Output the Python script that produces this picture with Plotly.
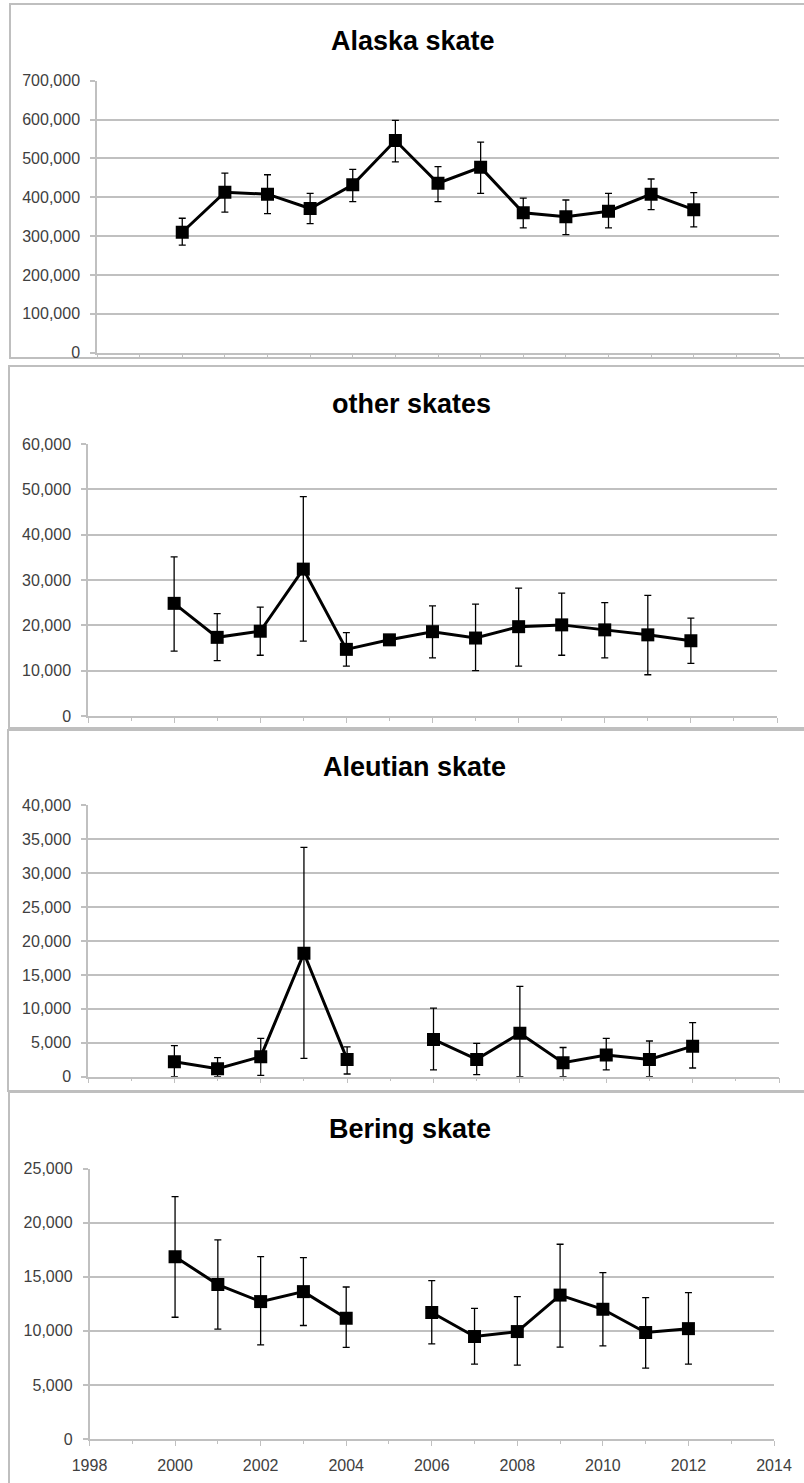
import plotly.graph_objects as go

W, H = 804, 1483

years = [2000, 2001, 2002, 2003, 2004, 2005, 2006, 2007, 2008, 2009, 2010, 2011, 2012]
x_ticks = [1998, 2000, 2002, 2004, 2006, 2008, 2010, 2012, 2014]

titles = ["Alaska skate", "other skates", "Aleutian skate", "Bering skate"]

alaska = [310000, 413000, 408000, 371000, 432000, 546000, 436000, 477000, 360000, 350000, 364000, 408000, 368000]
alaska_hi = [346000, 462000, 458000, 410000, 472000, 598000, 479000, 542000, 398000, 393000, 410000, 447000, 412000]
alaska_lo = [277000, 362000, 358000, 332000, 389000, 491000, 389000, 410000, 321000, 304000, 321000, 368000, 324000]

other = [24850, 17350, 18700, 32400, 14700, 16800, 18600, 17200, 19700, 20100, 19000, 17900, 16600]
other_hi = [35100, 22600, 24000, 48400, 18400, 16800, 24300, 24700, 28200, 27100, 25000, 26600, 21600]
other_lo = [14300, 12200, 13400, 16500, 11000, 16800, 12800, 10000, 11000, 13400, 12800, 9100, 11600]

aleutian = [2210, 1180, 2950, 18200, 2550, None, 5500, 2550, 6400, 2060, 3200, 2550, 4500]
aleutian_hi = [4570, 2800, 5650, 33800, 4400, None, 10100, 4900, 13300, 4300, 5650, 5260, 7960]
aleutian_lo = [0, 0, 200, 2700, 400, None, 1000, 300, 0, 0, 1000, 0, 1280]

bering = [16850, 14270, 12700, 13620, 11160, None, 11690, 9470, 9930, 13300, 11990, 9840, 10200]
bering_hi = [22400, 18400, 16850, 16760, 14050, None, 14640, 12080, 13160, 18000, 15370, 13070, 13530]
bering_lo = [11250, 10150, 8700, 10490, 8460, None, 8800, 6920, 6830, 8490, 8600, 6550, 6920]

y_max = [700000, 60000, 40000, 25000]
y_step = [100000, 10000, 5000, 5000]

series = [(alaska, alaska_hi, alaska_lo), (other, other_hi, other_lo),
          (aleutian, aleutian_hi, aleutian_lo), (bering, bering_hi, bering_lo)]

# layout geometry (pixels)
plot_px = [  # x0, x1, ytop, ybottom
    (97, 779, 80.7, 352.7),
    (88, 777, 444, 716),
    (88, 779, 805.3, 1076.7),
    (89.5, 774, 1168.5, 1439),
]
title_px = [(413, 41), (411, 404), (414, 767), (410, 1129)]
border_px = [(10, 4, 358), (9, 366, 728), (8, 730, 1091), (9, 1092, 1495)]

GRID = "#c0c0c0"
TXT = "#404040"
FONT = "Liberation Sans"

def px(v):
    return v / W

def py(v):
    return 1 - v / H

def err(vals, hi, lo):
    up, dn = [], []
    for v, h, l in zip(vals, hi, lo):
        if v is None:
            up.append(None)
            dn.append(None)
        else:
            up.append(h - v)
            dn.append(v - l)
    return up, dn

fig = go.Figure()
layout = dict(
    width=W, height=H, autosize=False,
    margin=dict(l=0, r=0, t=0, b=0, pad=0),
    paper_bgcolor="white", plot_bgcolor="white",
    showlegend=False,
    font=dict(family=FONT, size=16, color=TXT),
)
annotations = []
shapes = []

for i, ((vals, hi, lo), title) in enumerate(zip(series, titles)):
    n = i + 1
    xa = "x" if n == 1 else f"x{n}"
    ya = "y" if n == 1 else f"y{n}"
    up, dn = err(vals, hi, lo)
    fig.add_trace(go.Scatter(
        x=years, y=vals, xaxis=xa, yaxis=ya,
        mode="lines+markers",
        line=dict(color="black", width=3),
        marker=dict(symbol="square", size=13, color="black"),
        connectgaps=False,
        error_y=dict(type="data", symmetric=False, array=up, arrayminus=dn,
                     color="black", thickness=1.3, width=3.5),
        hoverinfo="x+y",
    ))
    x0, x1, yt, yb = plot_px[i]
    last = (n == 4)
    layout[f"xaxis{'' if n == 1 else n}"] = dict(
        domain=[px(x0), px(x1)], anchor=ya, automargin=False,
        range=[1998, 2014], tickmode="array", tickvals=x_ticks,
        ticks="outside", ticklen=5, tickwidth=1.3, tickcolor=GRID,
        minor=dict(ticks="outside", ticklen=3, tickwidth=1.3, tickcolor=GRID,
                   dtick=1, tick0=1999),
        showticklabels=last, ticklabelstandoff=6,
        tickfont=dict(family=FONT, size=16, color=TXT),
        showline=True, linecolor=GRID, linewidth=1.5,
        showgrid=False, zeroline=False, fixedrange=True,
    )
    layout[f"yaxis{'' if n == 1 else n}"] = dict(
        domain=[py(yb), py(yt)], anchor=xa, automargin=False,
        range=[0, y_max[i]], dtick=y_step[i], tick0=0,
        tickformat=",d",
        ticks="outside", ticklen=5, tickwidth=1.5, tickcolor=GRID,
        ticklabelstandoff=7,
        tickfont=dict(family=FONT, size=16, color=TXT),
        showline=True, linecolor=GRID, linewidth=1.5,
        showgrid=True, gridcolor=GRID, gridwidth=1.5,
        zeroline=False, fixedrange=True,
    )
    # overlay axis for the upper half of Excel-style cross tick marks
    layout[f"xaxis{n + 4}"] = dict(
        overlaying=xa, anchor=ya, range=[1998, 2014], automargin=False,
        tickmode="array", tickvals=x_ticks,
        ticks="inside", ticklen=6, tickwidth=1.3, tickcolor=GRID,
        showticklabels=False, showgrid=False, showline=False, zeroline=False,
        fixedrange=True,
    )
    tx, ty = title_px[i]
    annotations.append(dict(
        text=title, xref="paper", yref="paper", x=px(tx), y=py(ty),
        xanchor="center", yanchor="middle", showarrow=False,
        font=dict(family=FONT, size=27, color="black", weight="bold"),
    ))
    bx, bt, bb = border_px[i]
    shapes.append(dict(
        type="rect", xref="paper", yref="paper",
        x0=px(bx), x1=1.02, y0=py(bb), y1=py(bt),
        line=dict(color="#bfbfbf", width=2), fillcolor="rgba(0,0,0,0)",
        layer="below",
    ))

layout["annotations"] = annotations
layout["shapes"] = shapes
fig.update_layout(**layout)
fig.write_html(
    "out.html",
    config={"displayModeBar": False},
    post_script="document.body.style.margin='0px';document.body.style.overflow='hidden';",
)
